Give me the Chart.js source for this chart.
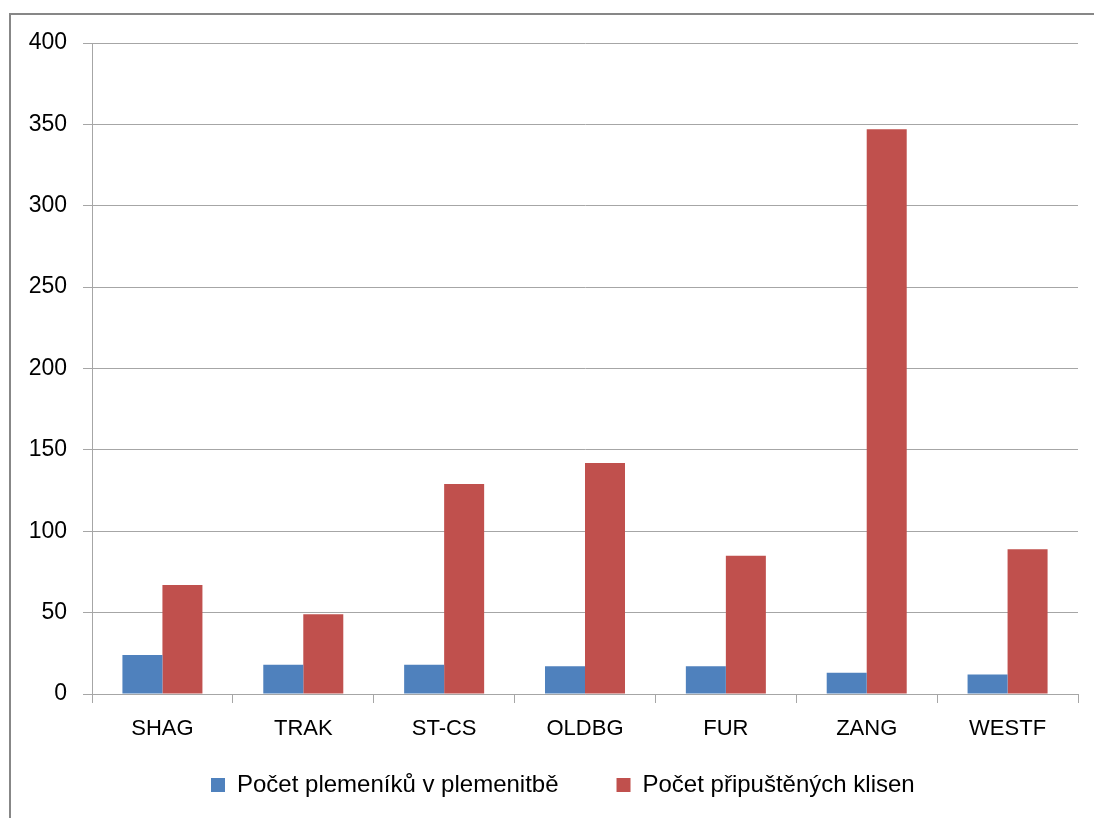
<!DOCTYPE html>
<html>
<head>
<meta charset="utf-8">
<script src="https://cdn.jsdelivr.net/npm/chart.js@4.4.1/dist/chart.umd.min.js"></script>
<style>
  html, body { margin: 0; padding: 0; background: #fff; overflow: hidden; }
  #frame { position: absolute; left: 9px; top: 13px; width: 1200px; height: 900px; border: 2px solid #878787; box-sizing: border-box; }
  #c { position: absolute; left: 0; top: 0; }
</style>
</head>
<body>
<div id="frame"></div>
<canvas id="c" width="1094" height="818"></canvas>
<script>
const categories = ["SHAG", "TRAK", "ST-CS", "OLDBG", "FUR", "ZANG", "WESTF"];
const seriesNames = ["Počet plemeníků v plemenitbě", "Počet připuštěných klisen"];
const stallions = [24, 18, 18, 17, 17, 13, 12];
const mares = [67, 49, 129, 142, 85, 347, 89];
const yTicks = [0, 50, 100, 150, 200, 250, 300, 350, 400];

const gridColor = "#a6a6a6";
const fontFamily = "'Liberation Sans', Arial, sans-serif";
const legendPad = 58;
const legendFont = 24;

// place legend row: first box at x=211, text centre at y=785
const shiftLegend = {
  id: "shiftLegend",
  afterLayout(chart) {
    const lg = chart.legend;
    if (!lg) return;
    const first = lg.lineWidths ? lg.lineWidths[0] : 0;
    const curStart = ((lg.left + legendPad) + (lg.right - first)) / 2;
    const dx = 211 - curStart;
    lg.left += dx; lg.right += dx;
    const curCenter = lg.top + legendPad + legendFont / 2;
    const dy = 785 - curCenter;
    lg.top += dy; lg.bottom += dy;
  }
};

new Chart(document.getElementById("c"), {
  type: "bar",
  data: {
    labels: categories,
    datasets: [
      { label: seriesNames[0], data: stallions, backgroundColor: "#4F81BD", borderWidth: 0 },
      { label: seriesNames[1], data: mares, backgroundColor: "#C0504D", borderWidth: 0 }
    ]
  },
  options: {
    responsive: false,
    devicePixelRatio: 1,
    animation: false,
    layout: { padding: { top: 43, right: 16, bottom: -38, left: 0 } },
    datasets: { bar: { categoryPercentage: 0.568, barPercentage: 1.0 } },
    plugins: {
      legend: {
        position: "bottom",
        labels: {
          font: { family: fontFamily, size: legendFont },
          color: "#000",
          boxWidth: 14,
          boxHeight: 14,
          padding: legendPad
        }
      },
      tooltip: { enabled: false }
    },
    scales: {
      x: {
        grid: { drawOnChartArea: false, drawTicks: true, tickLength: 9, color: gridColor, offset: true },
        border: { display: true, color: gridColor, width: 1 },
        ticks: { font: { family: fontFamily, size: 22 }, color: "#000", padding: 13, maxRotation: 0 },
        afterFit(scale) { scale.height = 70; }
      },
      y: {
        min: 0,
        max: 400,
        afterBuildTicks(scale) { scale.ticks = yTicks.map(v => ({ value: v })); },
        grid: { color: gridColor, tickLength: 9, drawTicks: true },
        border: { display: true, color: gridColor, width: 1 },
        ticks: { font: { family: fontFamily, size: 23 }, color: "#000", padding: 16 },
        afterFit(scale) { scale.width = 92; }
      }
    }
  },
  plugins: [shiftLegend]
});
</script>
</body>
</html>
